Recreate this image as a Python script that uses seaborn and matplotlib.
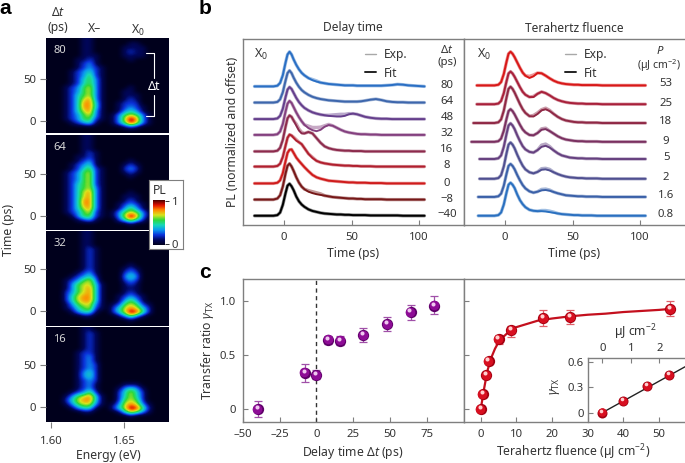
"""
Recreates the four-map / PL trace / transfer-ratio figure.
Values are read off the reference by eye.
"""

import matplotlib
matplotlib.use("Agg")
import matplotlib.pyplot as plt
import numpy as np
import seaborn as sns
from matplotlib.colors import LinearSegmentedColormap
from matplotlib.lines import Line2D
from matplotlib.transforms import ScaledTranslation

W, H = 685, 463
INK = "#333333"
SPINE = "#7f7f7f"
TICK_SIZE = 8.2
LABEL_SIZE = 8.8

# ---------------------------------------------------------------------------
# Panel a: PL maps, one digit per cell (0-9), rows run from late to early time.
# Each map has two column blocks: the X- side and the X0 side.
# ---------------------------------------------------------------------------
MAP_LABELS = ["80", "64", "32", "16"]
BLANK_XM = "00000000000"
TAIL_XM = "00000011000"
BLANK_X0 = "0000000000"

MAP_80_XM = [
    TAIL_XM, TAIL_XM, TAIL_XM, TAIL_XM,
    "00000011100", "00000112100", "00000123100", "00000123210",
    "00001234210", "00001235210", "00001245310", "00001245310",
    "00012356310", "00012356310", "00012456310", "00012467310",
    "00012477410", "00012477410", "00012467310", "00012356310",
    "00012355210", "00001234100", BLANK_XM, BLANK_XM,
]
MAP_80_X0 = [
    BLANK_X0, "0001100000", "0011110000", "0012110000",
    "0011110000", "0001000000", BLANK_X0, BLANK_X0,
    BLANK_X0, BLANK_X0, BLANK_X0, BLANK_X0,
    "0001000000", "0011000000", "0011100000", "0012100000",
    "0122200000", "0123210000", "0134310000", "1356531000",
    "1369731000", "1358631000", "0012100000", BLANK_X0,
]
MAP_64_XM = [
    TAIL_XM, TAIL_XM, TAIL_XM, TAIL_XM,
    "00000012100", "00000112100", "00000123100", "00001234100",
    "00001245210", "00012356210", "00012356210", "00012356210",
    "00012456210", "00012456310", "00012467310", "00012467310",
    "00012477310", "00012477310", "00012467310", "00012356210",
    "00001355210", "00000123100", BLANK_XM, BLANK_XM,
]
MAP_64_X0 = [
    BLANK_X0, BLANK_X0, BLANK_X0, BLANK_X0,
    BLANK_X0, BLANK_X0, "0001000000", "0012100000",
    "0023200000", "0012100000", "0001000000", BLANK_X0,
    BLANK_X0, BLANK_X0, "0001000000", "0011100000",
    "0012100000", "0123210000", "0135310000", "1356531000",
    "1369731000", "0246420000", "0001000000", BLANK_X0,
]
MAP_32_XM = [
    TAIL_XM, TAIL_XM, TAIL_XM, TAIL_XM,
    "00000012100", "00000012100", "00000012100", "00000012100",
    "00000012100", "00000012100", "00000123100", "00001234200",
    "00012356300", "00013566410", "00013567410", "00023567410",
    "00024677410", "00024677410", "00013566310", "00012456210",
    "00001344100", TAIL_XM, BLANK_XM, BLANK_XM,
]
MAP_32_X0 = [
    BLANK_X0, BLANK_X0, BLANK_X0, BLANK_X0,
    BLANK_X0, BLANK_X0, BLANK_X0, BLANK_X0,
    "0001000000", "0012100000", "0023200000", "0034300000",
    "0023200000", "0012100000", "0011100000", "0012100000",
    "0123210000", "0135310000", "1256521000", "2467642000",
    "2469852000", "0135310000", "0001000000", BLANK_X0,
]
MAP_16_XM = [
    TAIL_XM, "00000012100", "00000012100", "00000012100",
    "00000012100", "00000012100", "00000122100", "00000123100",
    "00000123100", "00000123200", "00000123200", "00000134200",
    "00000134200", "00000123200", "00000123100", "00000123100",
    "00001235200", "00013567410", "00024677410", "00013566310",
    "00001344100", TAIL_XM, BLANK_XM, BLANK_XM,
]
MAP_16_X0 = [
    BLANK_X0, BLANK_X0, BLANK_X0, BLANK_X0,
    BLANK_X0, BLANK_X0, BLANK_X0, BLANK_X0,
    BLANK_X0, BLANK_X0, BLANK_X0, BLANK_X0,
    BLANK_X0, BLANK_X0, "0011100000", "0134310000",
    "0246420000", "0246420000", "0256520000", "1367631000",
    "2469852000", "0146531000", "0001000000", BLANK_X0,
]
MAP_TMAX = [99, 96.4, 94.9, 94.9]
MAP_TMIN = [-14, -16.7, -18.2, -18.2]
E_MIN, E_MAX = 1.5966, 1.6808

# ---------------------------------------------------------------------------
# Panel b: traces in percent of peak, sampled on TRACE_T
# ---------------------------------------------------------------------------
TRACE_T = [-22, -8, -5, -3, -1, 1, 2.5, 4, 5.5, 7, 9, 11, 13, 15, 18, 21, 24, 27, 30, 33, 36, 39,
           42, 45, 48, 51, 54, 57, 60, 64, 68, 72, 76, 80, 84, 88, 92, 96, 104]

DELAY_LABELS = ["80", "64", "48", "32", "16", "8", "0", "\u22128", "\u221240"]
DELAY_COLORS = ["#2a6fc4", "#3d66ac", "#653f8c", "#84407f", "#8c2a4c", "#b01f2e", "#cf1b1b", "#761818", "#000000"]
DELAY_OFFSET = [4.20, 3.71, 3.21, 2.73, 2.23, 1.77, 1.26, 0.77, 0.28]
DELAY_PEAK = [1.05, 0.97, 0.97, 1.03, 1.09, 0.97, 1.03, 1.09, 0.97]
DELAY_FIT = [
    [0, 0, 2, 10, 32, 68, 92, 100, 92, 78, 62, 49, 39, 32, 24, 18, 14, 11, 9, 7, 6, 5, 4, 3, 3, 3, 2, 2, 2, 2, 2, 2, 3, 4, 6, 5, 3, 2, 0],
    [0, 0, 2, 10, 32, 68, 92, 100, 92, 78, 62, 49, 39, 32, 24, 18, 14, 11, 9, 7, 6, 5, 4, 3, 3, 3, 3, 4, 6, 9, 11, 8, 4, 2, 1, 1, 0, 0, 0],
    [0, 0, 2, 10, 32, 68, 92, 100, 94, 82, 66, 53, 43, 35, 27, 21, 17, 14, 12, 10, 9, 8, 8, 10, 15, 17, 15, 11, 7, 4, 2, 1, 1, 0, 0, 0, 0, 0, 0],
    [0, 0, 2, 10, 32, 68, 92, 100, 94, 82, 66, 52, 40, 30, 20, 14, 11, 15, 24, 29, 27, 21, 15, 10, 7, 5, 3, 2, 2, 1, 1, 0, 0, 0, 0, 0, 0, 0, 0],
    [0, 0, 2, 10, 32, 68, 92, 100, 96, 86, 72, 58, 50, 50, 54, 50, 37, 24, 14, 9, 6, 4, 3, 2, 2, 1, 1, 1, 0, 0, 0, 0, 0, 0, 0, 0, 0, 0, 0],
    [0, 0, 2, 9, 30, 65, 90, 100, 97, 90, 81, 76, 70, 58, 40, 27, 18, 13, 10, 8, 6, 5, 4, 3, 3, 2, 2, 1, 1, 1, 0, 0, 0, 0, 0, 0, 0, 0, 0],
    [0, 0, 2, 9, 30, 65, 90, 99, 100, 90, 76, 66, 57, 48, 36, 25, 18, 14, 11, 8, 7, 6, 5, 4, 3, 3, 2, 2, 2, 1, 1, 1, 0, 0, 0, 0, 0, 0, 0],
    [0, 0, 3, 12, 36, 72, 94, 100, 92, 80, 62, 47, 36, 29, 22, 18, 15, 13, 11, 9, 7, 6, 5, 4, 3, 3, 2, 2, 1, 1, 1, 1, 0, 0, 0, 0, 0, 0, 0],
    [0, 0, 2, 10, 34, 70, 94, 100, 92, 80, 60, 45, 35, 28, 20, 15, 12, 9, 7, 6, 5, 4, 4, 3, 3, 2, 2, 2, 2, 1, 1, 1, 1, 1, 1, 0, 0, 0, 0],
]
# where the measured trace sits above the fit, {time: percent}
DELAY_EXP_EXTRA = [
    {21: 2, 24: 2},
    {},
    {33: 2, 36: 4, 39: 6, 42: 7, 45: 5, 48: 2},
    {18: 6, 21: 8, 24: 11, 27: 8, 30: 3, 33: 2},
    {9: 4, 11: 4, 13: 3},
    {7: 2, 9: 3, 21: 2},
    {},
    {18: 3, 21: 4, 24: 4, 27: 3},
    {},
]

FLUENCE_LABELS = ["53", "25", "18", "9", "5", "2", "1.6", "0.8"]
FLUENCE_COLORS = ["#d81818", "#a8203a", "#8f2845", "#7a3060", "#65407f", "#4f4f90", "#3a60a8", "#2a70c0"]
FLUENCE_OFFSET = [4.23, 3.66, 3.09, 2.52, 2.00, 1.40, 0.85, 0.28]
FLUENCE_PEAK = [1.02, 0.99, 1.10, 0.99, 1.08, 1.10, 1.00, 1.00]
FLUENCE_START = [-21, -21, -23.5, -25, -19, -19, -20, -20]
FLUENCE_FIT = [
    [0, 0, 2, 10, 34, 70, 94, 100, 94, 84, 68, 52, 38, 29, 22, 27, 37, 36, 29, 21, 14, 9, 6, 4, 3, 2, 2, 1, 1, 1, 1, 0, 0, 0, 0, 0, 0, 0, 0],
    [0, 0, 2, 10, 34, 70, 94, 100, 94, 84, 68, 52, 38, 29, 22, 22, 32, 38, 34, 27, 19, 13, 9, 6, 4, 3, 2, 2, 1, 1, 1, 0, 0, 0, 0, 0, 0, 0, 0],
    [0, 0, 2, 10, 34, 70, 94, 100, 94, 84, 68, 52, 38, 28, 19, 18, 25, 35, 38, 33, 25, 17, 11, 7, 5, 3, 2, 2, 1, 1, 1, 0, 0, 0, 0, 0, 0, 0, 0],
    [0, 0, 2, 10, 34, 70, 94, 100, 94, 84, 68, 52, 38, 29, 21, 20, 27, 37, 39, 33, 25, 17, 11, 7, 5, 3, 2, 2, 1, 1, 1, 0, 0, 0, 0, 0, 0, 0, 0],
    [0, 0, 2, 10, 34, 70, 94, 100, 94, 84, 66, 50, 36, 27, 20, 18, 25, 34, 37, 32, 24, 16, 10, 7, 4, 3, 2, 2, 1, 1, 1, 0, 0, 0, 0, 0, 0, 0, 0],
    [0, 0, 2, 10, 34, 70, 94, 100, 94, 84, 66, 50, 36, 26, 18, 15, 19, 25, 26, 23, 18, 13, 9, 6, 4, 3, 2, 2, 1, 1, 1, 0, 0, 0, 0, 0, 0, 0, 0],
    [0, 0, 2, 10, 34, 70, 94, 100, 94, 84, 66, 50, 36, 26, 17, 13, 16, 20, 21, 19, 15, 11, 8, 5, 4, 3, 2, 2, 1, 1, 1, 0, 0, 0, 0, 0, 0, 0, 0],
    [0, 0, 2, 10, 34, 70, 94, 100, 94, 84, 64, 47, 35, 26, 18, 15, 14, 14, 13, 11, 9, 7, 5, 4, 3, 2, 2, 1, 1, 1, 0, 0, 0, 0, 0, 0, 0, 0, 0],
]
FLUENCE_EXP_EXTRA = [
    {18: 5, 21: 4},
    {21: 2},
    {21: 3, 24: 3, 27: 2, 30: 3, 33: 2},
    {27: 3, 30: 3},
    {27: 5, 30: 5, 33: 3},
    {27: 3, 30: 3, 33: 3},
    {27: 3, 30: 3, 33: 2},
    {27: 2, 30: 3, 33: 3, 36: 2},
]

# ---------------------------------------------------------------------------
# Panel c: transfer ratio
# ---------------------------------------------------------------------------
DELAY_T = [-40, -8, 0, 8, 16, 32, 48, 64, 80]
DELAY_GAMMA = [0.0, 0.335, 0.315, 0.645, 0.635, 0.685, 0.785, 0.90, 0.96]
DELAY_ERR_LOW = [0.07, 0.085, 0.04, 0.045, 0.045, 0.065, 0.065, 0.07, 0.08]
DELAY_ERR_HIGH = [0.07, 0.085, 0.045, 0.035, 0.045, 0.065, 0.065, 0.07, 0.09]

FLUENCE_P = [0.0, 0.56, 1.6, 2.2, 5.0, 8.6, 17.6, 25.1, 53.2]
FLUENCE_GAMMA = [0.0, 0.136, 0.316, 0.446, 0.65, 0.73, 0.845, 0.85, 0.925]
FLUENCE_ERR_LOW = [0.03, 0.02, 0.025, 0.03, 0.045, 0.065, 0.075, 0.06, 0.065]
FLUENCE_ERR_HIGH = [0.03, 0.02, 0.025, 0.03, 0.04, 0.045, 0.07, 0.065, 0.075]

FIT_P = [0, 0.5, 1, 1.5, 2, 3, 4, 5, 6, 8, 10, 13, 16, 20, 25, 30, 35, 40, 45, 50, 53.5]
FIT_GAMMA = [0, 0.10, 0.20, 0.29, 0.37, 0.48, 0.56, 0.62, 0.66, 0.72, 0.76, 0.79, 0.82, 0.84, 0.86, 0.875, 0.885, 0.90, 0.91, 0.92, 0.93]

INSET_P = [0.0, 0.74, 1.58, 2.34]
INSET_GAMMA = [0.0, 0.133, 0.314, 0.443]
INSET_FIT_P = [0.0, 2.9]
INSET_FIT_GAMMA = [0.0, 0.54]


# ---------------------------------------------------------------------------
# Helpers
# ---------------------------------------------------------------------------
def px_axes(fig, x0, y0, x1, y1, **kw):
    # pixel box, origin top left
    return fig.add_axes([x0 / W, 1 - y1 / H, (x1 - x0) / W, (y1 - y0) / H], **kw)


def px_text(fig, x, y, s, **kw):
    kw.setdefault("ha", "center")
    kw.setdefault("va", "center")
    kw.setdefault("color", INK)
    kw.setdefault("fontsize", LABEL_SIZE)
    return fig.text(x / W, 1 - y / H, s, **kw)


def grey_frame(ax, right=True):
    for side, spine in ax.spines.items():
        spine.set_color(SPINE)
        spine.set_linewidth(1.0)
    ax.spines["right"].set_visible(right)
    ax.spines["top"].set_visible(True)
    ax.tick_params(direction="in", length=3.5, width=0.8, color=SPINE, labelsize=TICK_SIZE,
                   labelcolor=INK, pad=5)


def draw_traces(ax, fits, extras, offsets, peaks, colors, starts=None):
    for i, fit in enumerate(fits):
        t = list(TRACE_T)
        if starts is not None:
            t[0] = starts[i]
        fit = np.array(fit, dtype=float)
        exp = fit.copy()
        for when, extra in extras[i].items():
            exp[TRACE_T.index(when)] += extra
        y_exp = offsets[i] + exp / 100 * peaks[i]
        y_fit = offsets[i] + fit / 100 * peaks[i]
        sns.lineplot(x=t, y=y_exp, color=colors[i], lw=2.4, alpha=0.45, ax=ax,
                     estimator=None, sort=False, errorbar=None, solid_capstyle="round")
        sns.lineplot(x=t, y=y_fit, color=colors[i], lw=1.4, ax=ax,
                     estimator=None, sort=False, errorbar=None)
    ax.set(xlim=(-30.5, 133.3), ylim=(0, 186 / 33), xlabel="", ylabel="")
    ax.set_xticks([0, 50, 100])
    ax.set_yticks([])


def draw_balls(fig, ax, x, y, dark, mid, light, s):
    # shaded sphere: dark base, lighter body, small highlight
    sns.scatterplot(x=x, y=y, s=s, color=dark, linewidth=0, ax=ax, zorder=5, clip_on=False)
    body = ax.transData + ScaledTranslation(-0.2 / 72, 0.3 / 72, fig.dpi_scale_trans)
    sns.scatterplot(x=x, y=y, s=s * 0.72, color=mid, linewidth=0, ax=ax, zorder=6,
                    transform=body, clip_on=False)
    spot = ax.transData + ScaledTranslation(-0.8 / 72, 1.4 / 72, fig.dpi_scale_trans)
    sns.scatterplot(x=x, y=y, s=s * 0.13, color=light, linewidth=0, ax=ax, zorder=7,
                    transform=spot, clip_on=False)


def draw_points(fig, ax, x, y, low, high, err_color, dark, mid, light):
    ax.errorbar(x, y, yerr=[low, high], fmt="none", ecolor=err_color, elinewidth=0.9,
                capsize=3.2, capthick=0.9, zorder=3)
    draw_balls(fig, ax, x, y, dark, mid, light, 66)


# ---------------------------------------------------------------------------
# Main
# ---------------------------------------------------------------------------
def main():
    sns.set_theme(style="ticks")
    plt.rcParams["font.family"] = ["Noto Sans", "DejaVu Sans"]
    plt.rcParams["mathtext.fontset"] = "custom"
    plt.rcParams["mathtext.rm"] = "Noto Sans"
    plt.rcParams["mathtext.it"] = "Noto Sans:italic"
    plt.rcParams["mathtext.bf"] = "Noto Sans:bold"

    fig = plt.figure(figsize=(W / 100, H / 100), dpi=100, facecolor="white")
    cmap = LinearSegmentedColormap.from_list("pl", [
        "#00001c", "#00065a", "#0a30d8", "#0a96f0", "#16d8b8", "#2ed83c",
        "#d8e41c", "#ff8a00", "#e01000", "#4a0000"])

    # --- panel a ---
    boxes = [(38, 133), (135, 230), (231, 326), (327, 422)]
    maps = [(MAP_80_XM, MAP_80_X0), (MAP_64_XM, MAP_64_X0), (MAP_32_XM, MAP_32_X0), (MAP_16_XM, MAP_16_X0)]
    im = None
    for i, (xm_rows, x0_rows) in enumerate(maps):
        ax = px_axes(fig, 46, boxes[i][0], 169, boxes[i][1])
        grid = np.array([[int(c) / 9 for c in a + b] for a, b in zip(xm_rows, x0_rows)])
        im = ax.imshow(grid, cmap=cmap, vmin=0, vmax=1, aspect="auto", interpolation="bicubic",
                       extent=(E_MIN, E_MAX, MAP_TMIN[i], MAP_TMAX[i]))
        sns.despine(ax=ax, left=True, bottom=True)
        ax.tick_params(direction="out", length=4, width=0.8, color=SPINE, labelsize=TICK_SIZE,
                       labelcolor=INK, pad=3)
        ax.set_yticks([0, 50])
        ax.set_yticklabels(["0", "50"])
        if i == 3:
            ax.set_xticks([1.60, 1.65])
            ax.set_xticklabels(["1.60", "1.65"])
            ax.tick_params(axis="x", pad=6)
        else:
            ax.set_xticks([])
        ax.text(0.06, 0.87, MAP_LABELS[i], transform=ax.transAxes, color="#d8d8d8", fontsize=8,
                ha="left", va="center")
        if i == 0:
            ax.plot([1.665, 1.6705, 1.6705], [81.7, 81.7, 51.9], color="white", lw=0.8)
            ax.plot([1.6705, 1.6705, 1.665], [31.6, 6.6, 6.6], color="white", lw=0.8)
            ax.text(1.6705, 41.5, "\u0394t", color="white", fontsize=9, ha="center", va="center")

    px_text(fig, 58, 12, "\u0394$\\it{t}$")
    px_text(fig, 58, 27, "(ps)")
    px_text(fig, 94.5, 29, "X\u2013")
    px_text(fig, 138, 30, "X$_{0}$")
    px_text(fig, 9, 230, "Time (ps)", rotation=90)
    px_text(fig, 108, 456, "Energy (eV)")

    # colour bar in its white box
    box = px_axes(fig, 149, 180, 183, 249, facecolor="white", zorder=10)
    box.set_xticks([])
    box.set_yticks([])
    for spine in box.spines.values():
        spine.set_color(SPINE)
        spine.set_linewidth(0.8)
    cax = px_axes(fig, 153, 200, 165, 245, zorder=11)
    cbar = fig.colorbar(im, cax=cax, ticks=[0.03, 0.97])
    cbar.ax.set_yticklabels(["0", "1"])
    cbar.outline.set_visible(False)
    cbar.ax.tick_params(length=3, width=0.7, color=INK, labelsize=TICK_SIZE, labelcolor=INK, pad=2, direction="out")
    px_text(fig, 160, 191, "PL", zorder=12)

    # --- panel b ---
    ax_d = px_axes(fig, 243, 39, 464, 225)
    draw_traces(ax_d, DELAY_FIT, DELAY_EXP_EXTRA, DELAY_OFFSET, DELAY_PEAK, DELAY_COLORS)
    grey_frame(ax_d)
    ax_f = px_axes(fig, 464, 39, 685, 225)
    draw_traces(ax_f, FLUENCE_FIT, FLUENCE_EXP_EXTRA, FLUENCE_OFFSET, FLUENCE_PEAK, FLUENCE_COLORS, FLUENCE_START)
    grey_frame(ax_f, right=False)

    legend_handles = [Line2D([], [], color="#a8a8a8", lw=1.0), Line2D([], [], color="#222222", lw=1.4)]
    for ax, anchor in ((ax_d, (0.503, 1.011)), (ax_f, (0.408, 1.011))):
        ax.legend(legend_handles, ["Exp.", "Fit"], frameon=False, fontsize=8.6, loc="upper left",
                  bbox_to_anchor=anchor, handlelength=0.95, labelspacing=0.5, handletextpad=0.6,
                  labelcolor=INK)

    px_text(fig, 353, 28, "Delay time", fontsize=8.6)
    px_text(fig, 574, 28, "Terahertz fluence", fontsize=8.6)
    px_text(fig, 232, 132, "PL (normalized and offset)", rotation=90)
    px_text(fig, 353, 253, "Time (ps)")
    px_text(fig, 574, 253, "Time (ps)")
    px_text(fig, 261, 54, "X$_{0}$", fontsize=9)
    px_text(fig, 484, 54, "X$_{0}$", fontsize=9)
    px_text(fig, 447, 50, "\u0394$\\it{t}$", fontsize=TICK_SIZE)
    px_text(fig, 447, 62, "(ps)", fontsize=TICK_SIZE)
    px_text(fig, 660, 51, "$\\it{P}$", fontsize=TICK_SIZE)
    px_text(fig, 659, 66, "(\u00b5J cm$^{-2}$)", fontsize=7.6)
    delay_rows = [86, 102, 118, 133, 150, 166, 183, 199, 215]
    for label, row in zip(DELAY_LABELS, delay_rows):
        px_text(fig, 447, row, label, fontsize=TICK_SIZE)
    fluence_rows = [84, 104, 122, 141, 158, 178, 196, 215]
    for label, row in zip(FLUENCE_LABELS, fluence_rows):
        px_text(fig, 666, row, label, fontsize=TICK_SIZE)

    # --- panel c ---
    purple = ("#a050a8", "#5e0068", "#8e0c96", "#f0c8f0")
    red = ("#e0606a", "#a00010", "#d80f20", "#ffd0d0")

    ax_l = px_axes(fig, 243, 279.3, 464, 421.7)
    ax_l.axvline(0, color="#333333", lw=1.0, ls=(0, (3, 2.5)), zorder=2)
    draw_points(fig, ax_l, DELAY_T, DELAY_GAMMA, DELAY_ERR_LOW, DELAY_ERR_HIGH, *purple)
    ax_l.set(xlim=(-50, 100.4), ylim=(-0.118, 1.204), xlabel="", ylabel="")
    ax_l.set_xticks([-50, -25, 0, 25, 50, 75])
    ax_l.set_xticklabels(["\u201350", "\u201325", "0", "25", "50", "75"])
    ax_l.set_yticks([0, 0.5, 1.0])
    ax_l.set_yticklabels(["0", "0.5", "1.0"])
    grey_frame(ax_l)

    ax_r = px_axes(fig, 464, 279.3, 685, 421.7)
    sns.lineplot(x=FIT_P, y=FIT_GAMMA, color="#c4101e", lw=1.6, ax=ax_r, estimator=None,
                 sort=False, errorbar=None, zorder=4)
    draw_points(fig, ax_r, FLUENCE_P, FLUENCE_GAMMA, FLUENCE_ERR_LOW, FLUENCE_ERR_HIGH, *red)
    ax_r.set(xlim=(-4.7, 57.3), ylim=(-0.118, 1.204), xlabel="", ylabel="")
    ax_r.set_xticks([0, 10, 20, 30, 40, 50])
    ax_r.set_yticks([0, 0.5, 1.0])
    ax_r.set_yticklabels([])
    grey_frame(ax_r, right=False)

    ax_i = px_axes(fig, 587.7, 358.3, 685, 421.7, facecolor="none", zorder=8)
    sns.lineplot(x=INSET_FIT_P, y=INSET_FIT_GAMMA, color="#222222", lw=1.0, ax=ax_i,
                 estimator=None, sort=False, errorbar=None, zorder=4)
    draw_balls(fig, ax_i, INSET_P, INSET_GAMMA, *red[1:], 52)
    ax_i.set(xlim=(-0.51, 2.9), ylim=(-0.106, 0.64), xlabel="", ylabel="")
    ax_i.set_xticks([0, 1, 2])
    ax_i.set_yticks([0, 0.3, 0.6])
    ax_i.set_yticklabels(["0", "0.3", "0.6"])
    grey_frame(ax_i, right=False)
    ax_i.spines["bottom"].set_visible(False)
    ax_i.tick_params(axis="x", top=True, bottom=False, labeltop=True, labelbottom=False, pad=3)
    ax_i.tick_params(axis="y", pad=3)

    px_text(fig, 207, 350, "Transfer ratio $\\it{\\gamma}_{\\mathrm{TX}}$", rotation=90)
    px_text(fig, 353, 452.7, "Delay time \u0394$\\it{t}$ (ps)")
    px_text(fig, 573, 452.7, "Terahertz fluence (\u00b5J cm$^{-2}$)")
    px_text(fig, 635, 332, "\u00b5J cm$^{-2}$")
    px_text(fig, 555, 386, "$\\it{\\gamma}_{\\mathrm{TX}}$", rotation=90)

    # panel letters
    for x, y, letter in ((5, 8, "a"), (205, 8, "b"), (205, 272, "c")):
        px_text(fig, x, y, letter, fontsize=15, fontweight="bold", color="black",
                family="Liberation Sans")

    fig.savefig("out.png", dpi=100)
    plt.close(fig)


if __name__ == "__main__":
    main()
